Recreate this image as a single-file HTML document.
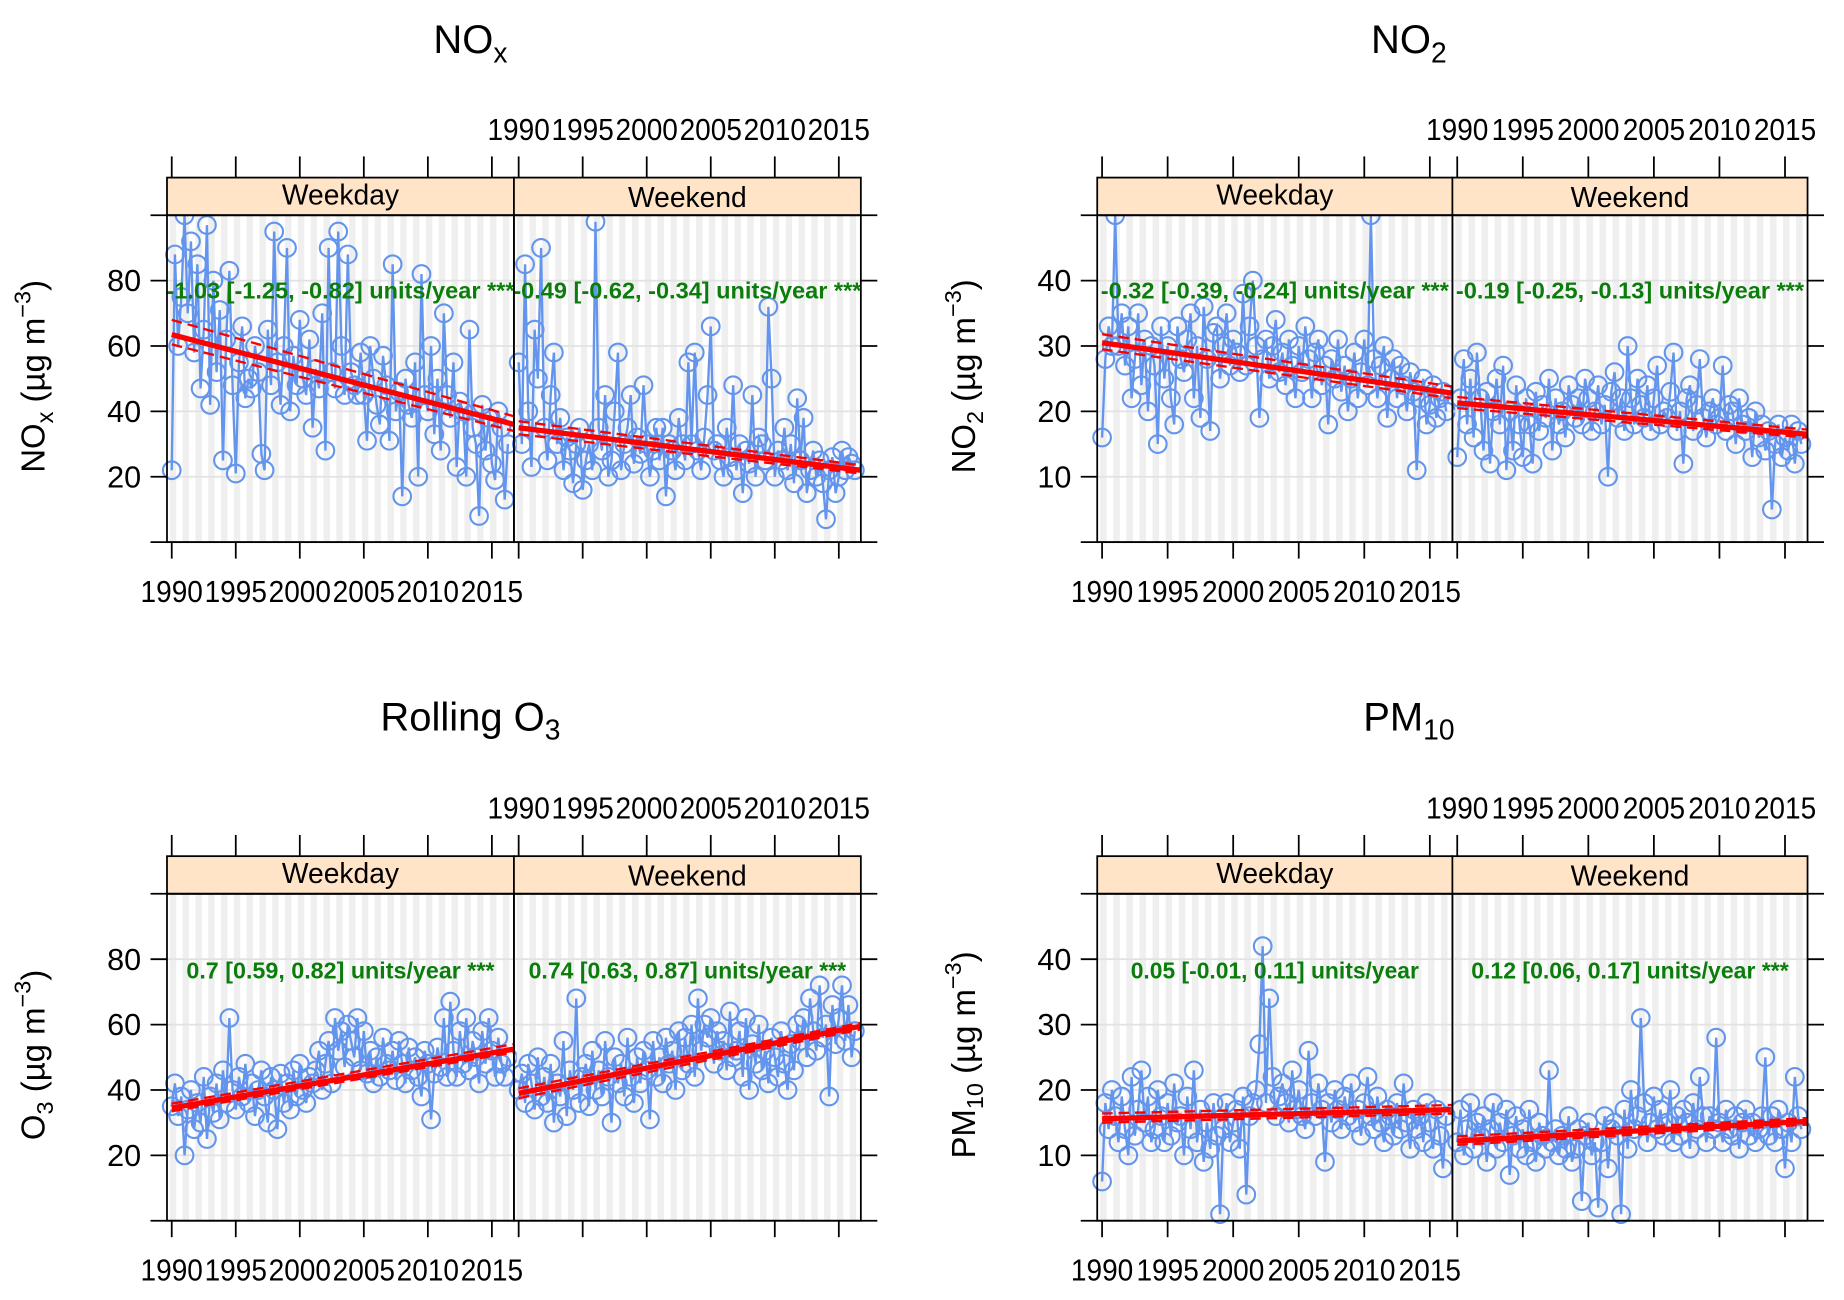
<!DOCTYPE html>
<html><head><meta charset="utf-8"><style>
html,body{margin:0;padding:0;background:#fff;}
svg{display:block;}
text{font-family:"Liberation Sans",sans-serif;}
</style></head><body>
<svg id="chart" width="1844" height="1300" viewBox="0 0 1568 1105.4" preserveAspectRatio="none" xmlns="http://www.w3.org/2000/svg"></svg>
<script>
const noxWeekday=[22,88,60,75,100,70,92,58,85,47,65,97,42,80,52,71,25,62,83,48,21,55,66,44,50,47,60,52,27,22,65,48,95,55,42,60,90,40,57,48,68,50,45,62,35,53,47,70,28,90,52,47,95,60,45,88,52,48,45,58,45,31,60,50,42,36,57,48,31,85,40,46,14,50,42,38,55,20,82,45,40,60,33,50,28,70,45,38,55,23,43,40,20,65,35,30,8,42,28,38,24,19,40,35,13,30];
const noxWeekend=[55,30,85,40,23,65,50,90,35,25,45,58,30,38,22,32,28,18,30,35,16,25,30,22,98,35,28,45,20,25,40,58,22,30,35,45,24,32,27,48,30,20,28,35,25,35,14,30,28,22,38,30,25,55,30,58,28,22,32,45,66,28,30,25,20,35,26,48,22,30,15,28,24,45,20,32,30,25,72,50,20,28,25,35,22,30,18,44,25,38,15,22,28,20,25,18,7,22,26,15,20,28,22,26,24,22];
const no2Weekday=[16,28,33,30,50,30,35,27,33,22,28,35,24,31,20,30,27,15,33,25,30,22,18,33,28,26,31,35,22,30,19,36,28,17,32,33,25,30,35,27,31,29,26,38,27,33,40,30,19,28,31,25,30,34,26,29,24,31,27,22,30,26,33,28,22,29,31,24,27,18,28,25,31,23,27,20,25,29,22,26,31,24,50,28,22,27,30,19,25,28,22,27,24,20,26,23,11,22,25,18,21,24,19,22,23,20];
const no2Weekend=[13,22,28,18,25,16,29,22,14,23,12,20,25,18,27,11,20,14,24,18,13,22,18,12,23,17,21,19,25,14,22,18,20,16,24,21,19,22,18,25,22,17,20,24,18,21,10,23,26,19,22,17,30,22,18,25,21,19,24,17,22,27,18,20,19,23,29,17,20,12,22,24,17,21,28,19,16,20,22,18,19,27,17,21,20,15,22,18,17,19,13,20,16,18,14,17,5,15,18,13,16,14,18,12,17,15];
const o3Weekday=[35,42,32,38,20,34,40,28,36,30,44,25,38,33,42,31,46,36,62,40,34,44,38,48,36,42,32,40,46,38,30,44,40,28,45,36,42,34,46,38,48,40,36,44,42,46,52,40,48,55,42,62,52,58,47,60,55,50,62,46,58,45,52,42,50,44,56,48,46,52,43,55,48,42,53,46,50,44,38,52,48,31,45,53,47,62,44,67,52,44,58,48,62,46,55,50,42,58,48,62,52,44,56,48,44,50];
const o3Weekend=[40,45,36,48,42,34,50,38,44,36,48,30,42,38,55,32,46,40,68,36,44,48,35,52,40,46,38,55,44,30,50,42,48,38,56,44,36,50,42,52,46,31,55,44,50,42,56,48,52,40,58,46,56,48,60,44,68,52,60,56,62,48,58,52,55,46,64,50,52,58,44,62,40,54,48,60,46,52,42,56,50,44,58,48,40,54,46,60,55,62,50,68,58,52,72,56,60,38,66,54,62,72,55,66,50,58];
const pm10Weekday=[6,18,14,20,16,12,19,14,10,22,13,17,23,15,19,12,14,20,16,12,18,13,21,15,16,10,19,14,23,12,17,9,15,11,18,13,1,14,18,12,15,17,11,19,4,16,18,20,27,42,18,34,22,16,19,21,18,15,23,17,20,16,14,26,18,16,21,17,9,18,15,20,17,14,19,16,21,15,17,13,18,22,16,14,19,15,12,17,16,13,18,14,21,15,11,17,14,16,12,18,15,11,17,13,8,16];
const pm10Weekend=[12,17,10,14,18,11,15,13,16,9,14,18,11,15,12,17,7,13,16,11,14,10,17,12,9,15,13,11,23,12,14,10,13,11,16,9,11,14,3,13,15,10,12,2,12,16,8,14,15,13,1,17,11,20,14,16,31,18,12,15,19,14,17,13,15,20,12,16,13,17,15,11,18,14,22,16,12,16,14,28,15,12,17,14,13,16,11,15,17,13,15,12,14,16,25,13,16,12,17,14,8,15,12,22,16,14];
// trend: [mid1990, mid2016.7, lo1990, lo2016.7, hi1990, hi2016.7]
const trendNoxWeekday=[63.5,36,60.5,34,68,38.5];
const trendNoxWeekend=[35,22,33,21,37,23.5];
const trendNo2Weekday=[30.5,22.8,29.5,22,31.8,23.8];
const trendNo2Weekend=[21.3,16.5,20.5,16,22.2,17.2];
const trendO3Weekday=[34.5,52.5,33.5,51.5,35.8,54];
const trendO3Weekend=[39,59.5,37.5,58.5,40.5,60.5];
const trendPm10Weekday=[15.6,17,15,16.4,16.4,17.7];
const trendPm10Weekend=[12.2,15.2,11.6,14.7,12.9,15.7];
const statNoxWeekday="-1.03 [-1.25, -0.82] units/year ***";
const statNoxWeekend="-0.49 [-0.62, -0.34] units/year ***";
const statNo2Weekday="-0.32 [-0.39, -0.24] units/year ***";
const statNo2Weekend="-0.19 [-0.25, -0.13] units/year ***";
const statO3Weekday="0.7 [0.59, 0.82] units/year ***";
const statO3Weekend="0.74 [0.63, 0.87] units/year ***";
const statPm10Weekday="0.05 [-0.01, 0.11] units/year";
const statPm10Weekend="0.12 [0.06, 0.17] units/year ***";
const yearTicks=[1990,1995,2000,2005,2010,2015];
const yTicksHigh=[20,40,60,80];
const yTicksLow=[10,20,30,40];

const NS="http://www.w3.org/2000/svg";
const svg=document.getElementById('chart');
function mk(tag,attrs,parent){const e=document.createElementNS(NS,tag);for(const k in attrs)e.setAttribute(k,attrs[k]);(parent||svg).appendChild(e);return e;}
const Y0=1989.63, Y1=2016.72;

const panels=[
 {key:'nox',x0:142,w:295,top:183,bot:461,ymax:100,ticks:yTicksHigh,title:['NO','x',''],ylab:['NO','x'],d:[noxWeekday,noxWeekend],t:[trendNoxWeekday,trendNoxWeekend],s:[statNoxWeekday,statNoxWeekend],ty:33,stY:247},
 {key:'no2',x0:933,w:302,top:183,bot:461,ymax:50,ticks:yTicksLow,title:['NO','2',''],ylab:['NO','2'],d:[no2Weekday,no2Weekend],t:[trendNo2Weekday,trendNo2Weekend],s:[statNo2Weekday,statNo2Weekend],ty:33,stY:247},
 {key:'o3',x0:142,w:295,top:760,bot:1038,ymax:100,ticks:yTicksHigh,title:['Rolling O','3',''],ylab:['O','3'],d:[o3Weekday,o3Weekend],t:[trendO3Weekday,trendO3Weekend],s:[statO3Weekday,statO3Weekend],ty:609,stY:825},
 {key:'pm10',x0:933,w:302,top:760,bot:1038,ymax:50,ticks:yTicksLow,title:['PM','10',''],ylab:['PM','10'],d:[pm10Weekday,pm10Weekend],t:[trendPm10Weekday,trendPm10Weekend],s:[statPm10Weekday,statPm10Weekend],ty:609,stY:825}
];

panels.forEach(p=>{
 const g=mk('g',{});
 
 
 const cx=p.x0+p.w;
 const tt=mk('text',{x:p.x0+p.w-37,y:p.ty+12,'font-size':34,'text-anchor':'middle'},g);
 
 
 tt.appendChild(document.createTextNode(p.title[0]));
 const sub=mk('tspan',{'font-size':24,dy:8},tt); sub.textContent=p.title[1];
 const yl=mk('text',{transform:`translate(${p.x0-104},${(p.top+p.bot)/2-2}) rotate(-90)`,'font-size':28,'text-anchor':'middle'},g);
 
 
 yl.appendChild(document.createTextNode(p.ylab[0]));
 const s1=mk('tspan',{'font-size':20,dy:7},yl); s1.textContent=p.ylab[1];
 const s2=mk('tspan',{dy:-7},yl); s2.textContent=' (\u00b5g m';
 const s3=mk('tspan',{'font-size':20,dy:-12},yl); s3.textContent='\u22123';
 const s4=mk('tspan',{dy:12},yl); s4.textContent=')';
 const yS=v=>p.bot-(v/p.ymax)*(p.bot-p.top);
 for(let k=0;k<2;k++){
  const px=p.x0+k*p.w;
  const xS=yr=>px+(yr-Y0)/(Y1-Y0)*p.w;
  const sg=mk('g',{},g);
  
  
  for(let yr=1990;yr<=2016;yr++){
   const a=xS(yr-0.15), b=xS(yr+0.35);
   mk('rect',{x:Math.max(a,px),y:p.top,width:Math.min(b,px+p.w)-Math.max(a,px),height:p.bot-p.top,fill:'#efefef'},sg);
  }
  p.ticks.forEach(v=>mk('line',{x1:px,x2:px+p.w,y1:yS(v),y2:yS(v),stroke:'#e2e2e2','stroke-width':1.5},sg));
  const data=p.d[k];
  const pts=data.map((v,i)=>[xS(1990+i/4),yS(v)]);
  const pl=mk('polyline',{points:pts.map(q=>q.join(',')).join(' '),fill:'none',stroke:'#6495ed','stroke-width':2},sg);
  
  
  pts.forEach(q=>{
   const c=mk('circle',{cx:q[0],cy:q[1],r:7.5,fill:'none',stroke:'#6495ed','stroke-width':1.8},sg);
   
   
  });
  const t=p.t[k];
  const tl=mk('line',{x1:xS(1990),y1:yS(t[0]),x2:xS(Y1),y2:yS(t[1]),stroke:'#ff0000','stroke-width':4.5},sg);
  
  
  [[t[2],t[3]],[t[4],t[5]]].forEach(c=>{
   const dl=mk('line',{x1:xS(1990),y1:yS(c[0]),x2:xS(Y1),y2:yS(c[1]),stroke:'#ff0000','stroke-width':2,'stroke-dasharray':'9,5'},sg);
   
   
  });
  const st=mk('text',{x:px+p.w/2,y:p.stY+7,'font-size':20,'font-weight':'bold',fill:'#0a7d0a','text-anchor':'middle',textLength:(p.s[k].length*8.45).toFixed(0),lengthAdjust:'spacingAndGlyphs',style:'font-family:"Liberation Sans Narrow","Liberation Sans",sans-serif'},sg);
  
  
  st.textContent=p.s[k];
  const sr=mk('rect',{x:px,y:p.top-32,width:p.w,height:32,fill:'#ffe4c8',stroke:'#000','stroke-width':1.5},sg);
  
  
  const stx=mk('text',{x:px+p.w/2,y:p.top-9+(k?2:0),'font-size':24,'text-anchor':'middle'},sg);
  
  
  stx.textContent=k?'Weekend':'Weekday';
  mk('rect',{x:px,y:p.top,width:p.w,height:p.bot-p.top,fill:'none',stroke:'#000','stroke-width':1.5},sg);
  yearTicks.forEach(yr=>{
   const x=xS(yr);
   mk('line',{x1:x,x2:x,y1:p.top-32,y2:p.top-50,stroke:'#000','stroke-width':1.5},sg);
   mk('line',{x1:x,x2:x,y1:p.bot,y2:p.bot+14,stroke:'#000','stroke-width':1.5},sg);
   if(k===1){const l=mk('text',{x:x,y:p.top-64,'font-size':26,'text-anchor':'middle',textLength:53,lengthAdjust:'spacingAndGlyphs'},sg);
    l.textContent=yr;}
   if(k===0){const l=mk('text',{x:x,y:p.bot+51,'font-size':26,'text-anchor':'middle',textLength:53,lengthAdjust:'spacingAndGlyphs'},sg);
    l.textContent=yr;}
  });
 }
 mk('line',{x1:p.x0-14,x2:cx+p.w+14,y1:p.top,y2:p.top,stroke:'#000','stroke-width':1.5},g);
 mk('line',{x1:p.x0-14,x2:cx+p.w+14,y1:p.bot,y2:p.bot,stroke:'#000','stroke-width':1.5},g);
 p.ticks.forEach(v=>{
  mk('line',{x1:p.x0-14,x2:p.x0,y1:yS(v),y2:yS(v),stroke:'#000','stroke-width':1.5},g);
  mk('line',{x1:cx+p.w,x2:cx+p.w+14,y1:yS(v),y2:yS(v),stroke:'#000','stroke-width':1.5},g);
  const l=mk('text',{x:p.x0-22,y:yS(v)+9,'font-size':26,'text-anchor':'end'},g);
  l.textContent=v;
 });
});
</script>
</body></html>
